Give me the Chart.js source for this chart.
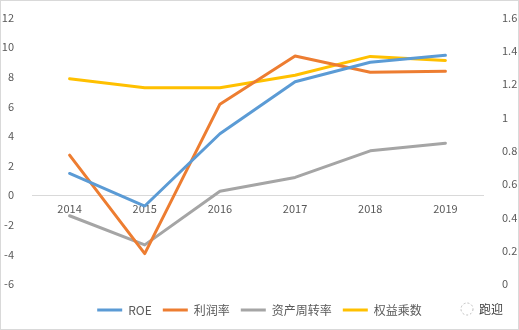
<!DOCTYPE html>
<html>
<head>
<meta charset="utf-8">
<script src="https://cdn.jsdelivr.net/npm/chart.js@4/dist/chart.umd.min.js"></script>
<style>
  html, body { margin: 0; padding: 0; background: #fff; }
  #wrap { width: 519px; height: 330px; position: relative; }
</style>
</head>
<body>
<div id="wrap"><canvas id="c" width="519" height="330"></canvas></div>
<script>
const years = ['2014', '2015', '2016', '2017', '2018', '2019'];
const roe = [1.47, -0.73, 4.15, 7.67, 8.98, 9.45];
const profitMargin = [2.71, -3.95, 6.15, 9.4, 8.31, 8.38];
const assetTurnover = [0.41, 0.235, 0.557, 0.64, 0.80, 0.846];
const equityMultiplier = [1.233, 1.179, 1.179, 1.254, 1.367, 1.343];
const seriesNames = ['ROE', '利润率', '资产周转率', '权益乘数'];

const FONT = '"Noto Sans CJK SC", "Microsoft YaHei", sans-serif';

const frame = {
  id: 'frame',
  afterDraw(chart) {
    const ctx = chart.ctx;
    ctx.save();
    ctx.strokeStyle = '#d9d9d9';
    ctx.lineWidth = 1;
    ctx.strokeRect(0.5, 0.5, chart.width - 1, chart.height - 1);
    ctx.fillStyle = '#404040';
    ctx.font = '12px ' + FONT;
    ctx.textBaseline = 'middle';
    ctx.textAlign = 'left';
    ctx.fillText('跑迎', 479, 309);
    ctx.strokeStyle = '#bbbbbb';
    ctx.setLineDash([2, 2]);
    ctx.beginPath();
    ctx.arc(467, 309, 6, 0, Math.PI * 2);
    ctx.stroke();
    ctx.restore();
  }
};

new Chart(document.getElementById('c'), {
  type: 'line',
  data: {
    labels: years,
    datasets: [
      { label: seriesNames[0], data: roe, yAxisID: 'y', borderColor: '#5B9BD5', backgroundColor: '#5B9BD5' },
      { label: seriesNames[1], data: profitMargin, yAxisID: 'y', borderColor: '#ED7D31', backgroundColor: '#ED7D31' },
      { label: seriesNames[2], data: assetTurnover, yAxisID: 'y1', borderColor: '#A5A5A5', backgroundColor: '#A5A5A5' },
      { label: seriesNames[3], data: equityMultiplier, yAxisID: 'y1', borderColor: '#FFC000', backgroundColor: '#FFC000' }
    ]
  },
  options: {
    responsive: false,
    animation: false,
    layout: { padding: { top: 14, left: 0, right: 0, bottom: 4 } },
    elements: {
      line: { borderWidth: 3, tension: 0, borderCapStyle: 'round', borderJoinStyle: 'round' },
      point: { radius: 0, hoverRadius: 0 }
    },
    plugins: {
      legend: {
        position: 'bottom',
        title: { display: true, text: ' ', font: { size: 1 }, padding: { top: 0, bottom: 7.8 } },
        labels: {
          font: { family: FONT, size: 12 },
          color: '#595959',
          boxWidth: 25,
          boxHeight: 3,
          padding: 11,
          generateLabels(chart) {
            const items = Chart.defaults.plugins.legend.labels.generateLabels(chart);
            items.forEach(i => { i.lineWidth = 0; });
            return items;
          }
        }
      },
      tooltip: { enabled: false }
    },
    scales: {
      x: {
        type: 'category',
        offset: true,
        position: { y: 0 },
        grid: { display: false, drawTicks: false, offset: true },
        border: { display: true, color: '#d9d9d9', width: 1 },
        ticks: { font: { family: FONT, size: 11 }, color: '#595959', padding: 7, maxRotation: 0 }
      },
      y: {
        position: 'left',
        min: -6, max: 12,
        grid: { display: false },
        border: { display: false },
        ticks: { stepSize: 2, font: { family: FONT, size: 11 }, color: '#595959', padding: 10 },
        afterFit(s) { s.width = 32; }
      },
      y1: {
        position: 'right',
        min: 0, max: 1.6,
        grid: { display: false },
        border: { display: false },
        ticks: { stepSize: 0.2, font: { family: FONT, size: 11 }, color: '#595959', padding: 11,
          callback(v) { return Math.round(v * 10) / 10; } },
        afterFit(s) { s.width = 36; }
      }
    }
  },
  plugins: [frame]
});
</script>
</body>
</html>
